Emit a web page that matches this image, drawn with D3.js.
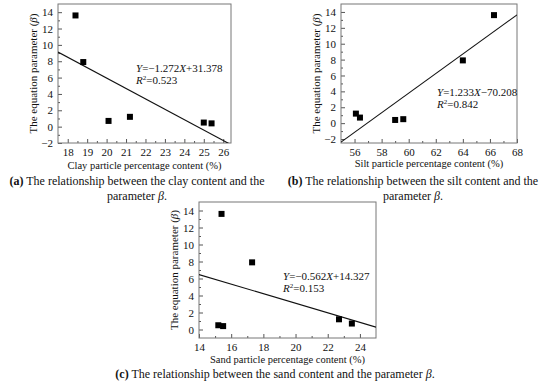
<!DOCTYPE html>
<html>
<head>
<meta charset="utf-8">
<script src="https://cdn.jsdelivr.net/npm/d3@7/dist/d3.min.js"></script>
<style>
  body { margin: 0; background: #fff; }
  svg { display: block; }
  text { font-family: "Liberation Serif", "Times New Roman", serif; fill: #111; }
</style>
</head>
<body>
<svg id="chart" width="550" height="382"></svg>
<script>
// beta values and the matching particle contents (%)
const beta = [13.6, 7.9, 0.7, 1.2, 0.5, 0.4];
const clay = [18.4, 18.8, 20.1, 21.2, 25.0, 25.4];
const silt = [66.3, 64.0, 56.4, 56.1, 59.6, 59.0];
const sand = [15.4, 17.3, 23.5, 22.7, 15.2, 15.5];

// tick labels
const clayTicks = [18, 19, 20, 21, 22, 23, 24, 25, 26];
const siltTicks = [56, 58, 60, 62, 64, 66, 68];
const sandTicks = [14, 16, 18, 20, 22, 24];
const betaTicksAB = [-2, 0, 2, 4, 6, 8, 10, 12, 14];
const betaTicksC = [0, 2, 4, 6, 8, 10, 12, 14];

// fitted lines: slope, intercept, r2
const fitClay = [-1.272, 31.378, "0.523"];
const fitSilt = [1.233, -70.208, "0.842"];
const fitSand = [-0.562, 14.327, "0.153"];

const svg = d3.select("#chart");
const serif = "Liberation Serif";

function panel(o) {
  const g = svg.append("g").attr("transform", `translate(${o.left},${o.top})`);
  const w = o.w, h = o.h;
  const x = d3.scaleLinear().domain(o.xDomain).range([0, w]);
  const y = d3.scaleLinear().domain(o.yDomain).range([h, 0]);

  // minor ticks halfway between the labelled ones
  const xMinor = [];
  for (let i = 0; i < o.xTicks.length - 1; i++) xMinor.push((o.xTicks[i] + o.xTicks[i + 1]) / 2);
  const yMinor = [];
  for (let i = 0; i < o.yTicks.length - 1; i++) yMinor.push((o.yTicks[i] + o.yTicks[i + 1]) / 2);

  g.append("g").attr("transform", `translate(0,${h})`)
    .call(d3.axisBottom(x).tickValues(o.xTicks).tickSize(-4).tickPadding(5).tickFormat(d3.format("d")));
  g.append("g").attr("transform", `translate(0,${h})`)
    .call(d3.axisBottom(x).tickValues(xMinor).tickSize(-2).tickFormat(""));
  g.append("g")
    .call(d3.axisLeft(y).tickValues(o.yTicks).tickSize(-4).tickPadding(5).tickFormat(d3.format("d")));
  g.append("g")
    .call(d3.axisLeft(y).tickValues(yMinor).tickSize(-2).tickFormat(""));
  g.selectAll(".domain").remove();
  g.selectAll("g").attr("font-family", serif).attr("font-size", 11);
  g.selectAll(".tick line").attr("stroke", "#555");
  g.selectAll(".tick text").attr("fill", "#111");

  g.append("rect").attr("width", w).attr("height", h)
    .attr("fill", "none").attr("stroke", "#777").attr("stroke-width", 1);

  // regression line clipped to the frame
  const clipId = "clip-" + o.id;
  g.append("clipPath").attr("id", clipId).append("rect").attr("width", w).attr("height", h);
  g.append("path")
    .datum(o.xDomain.map(v => [v, o.fit[0] * v + o.fit[1]]))
    .attr("clip-path", `url(#${clipId})`)
    .attr("fill", "none").attr("stroke", "#111").attr("stroke-width", 1.1)
    .attr("d", d3.line().x(d => x(d[0])).y(d => y(d[1])));

  // points
  g.selectAll("rect.pt").data(o.xs).enter().append("rect")
    .attr("class", "pt")
    .attr("x", d => x(d) - 3)
    .attr("y", (d, i) => y(beta[i]) - 3)
    .attr("width", 6).attr("height", 6)
    .attr("fill", "#000");

  // equation
  const eq = g.append("text").attr("x", o.eqX).attr("y", o.eqY).style("font-size", "11px");
  const s = o.fit[0], b = o.fit[1];
  eq.append("tspan").style("font-style", "italic").text("Y");
  eq.append("tspan").text("=" + (s < 0 ? "\u2212" + Math.abs(s).toFixed(3) : s.toFixed(3)));
  eq.append("tspan").style("font-style", "italic").text("X");
  eq.append("tspan").text((b < 0 ? "\u2212" : "+") + Math.abs(b).toFixed(3));
  const r2 = g.append("text").attr("x", o.eqX).attr("y", o.eqY + 12).style("font-size", "11px");
  r2.append("tspan").style("font-style", "italic").text("R");
  r2.append("tspan").attr("dy", -4).style("font-size", "7px").text("2");
  r2.append("tspan").attr("dy", 4).text("=" + o.fit[2]);

  // axis titles
  g.append("text").attr("x", w / 2).attr("y", h + o.xlGap).attr("text-anchor", "middle")
    .style("font-size", "10.5px").text(o.xLabel);
  const yl = g.append("text").attr("transform", `translate(${-21},${h / 2}) rotate(-90)`)
    .attr("text-anchor", "middle").style("font-size", "11px");
  yl.append("tspan").text("The equation parameter (");
  yl.append("tspan").style("font-style", "italic").text("\u03B2");
  yl.append("tspan").text(")");
}

function caption(lines, cx, y0) {
  lines.forEach((ln, i) => {
    const t = svg.append("text").attr("x", cx).attr("y", y0 + i * 15)
      .attr("text-anchor", "middle").style("font-size", "12px");
    ln.forEach(part => {
      const sp = t.append("tspan").text(part[0]);
      if (part[1] === "b") sp.style("font-weight", "bold");
      if (part[1] === "i") sp.style("font-style", "italic");
    });
  });
}

panel({ id: "a", left: 58, top: 4, w: 173, h: 139, xDomain: [17.5, 26.4], yDomain: [-2, 15],
  xTicks: clayTicks, yTicks: betaTicksAB, xs: clay, fit: fitClay, eqX: 78, eqY: 68, xlGap: 26,
  xLabel: "Clay particle percentage content (%)" });
panel({ id: "b", left: 341, top: 4, w: 176, h: 139, xDomain: [55, 68], yDomain: [-2.5, 15],
  xTicks: siltTicks, yTicks: betaTicksAB, xs: silt, fit: fitSilt, eqX: 96, eqY: 92, xlGap: 24,
  xLabel: "Silt particle percentage content (%)" });
panel({ id: "c", left: 199, top: 202, w: 177, h: 136, xDomain: [14, 25], yDomain: [-1, 15],
  xTicks: sandTicks, yTicks: betaTicksC, xs: sand, fit: fitSand, eqX: 84, eqY: 78, xlGap: 25,
  xLabel: "Sand particle percentage content (%)" });

caption([[["(a)", "b"], [" The relationship between the clay content and the"]],
         [["parameter "], ["\u03B2", "i"], ["."]]], 137, 185);
caption([[["(b)", "b"], [" The relationship between the silt content and the"]],
         [["parameter "], ["\u03B2", "i"], ["."]]], 413, 185);
caption([[["(c)", "b"], [" The relationship between the sand content and the parameter "], ["\u03B2", "i"], ["."]]], 275, 378);
</script>
</body>
</html>
